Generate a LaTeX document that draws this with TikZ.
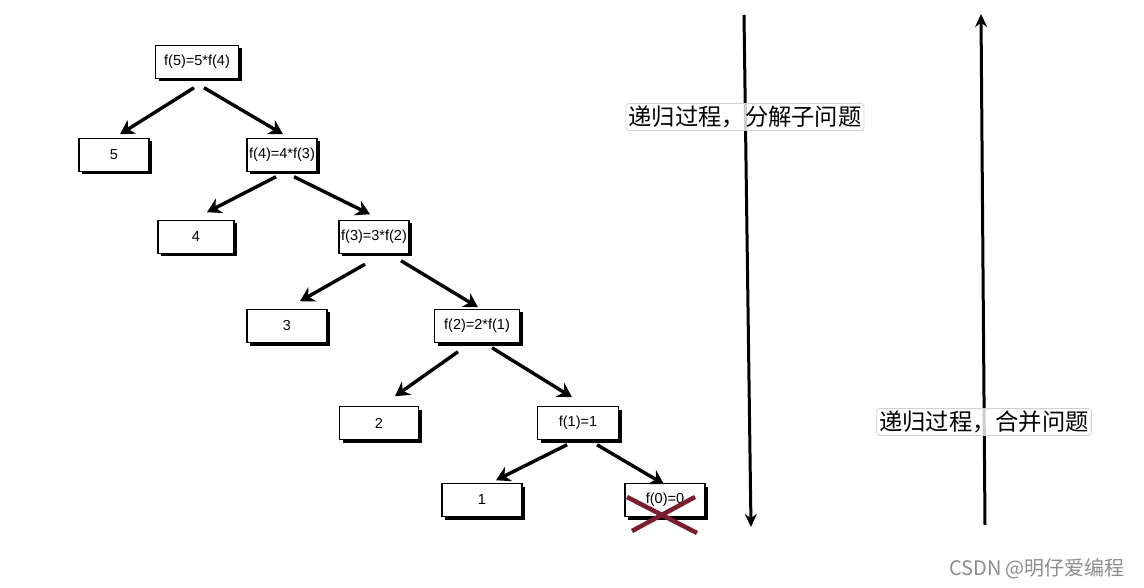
\documentclass[tikz,border=0pt]{standalone}
\usepackage{fontspec}
\setmainfont{Liberation Sans}
\newfontfamily\cjk{Noto Sans CJK SC}
\usetikzlibrary{arrows.meta,shadows,calc}
\begin{document}
\begin{tikzpicture}[x=1pt,y=-1pt,
  fbox/.style={draw=black,line width=1.5pt,fill=white,minimum width=74pt,minimum height=33pt,inner sep=1pt,font=\fontsize{14.5}{16}\selectfont,
    drop shadow={shadow xshift=3pt,shadow yshift=-3pt,opacity=1,fill=black}},
  conn/.style={line width=3.4pt,-{Stealth[length=14pt,width=16pt]}},
  vline/.style={line width=3pt,-{Stealth[length=13pt,width=12pt]}},
  lbl/.style={draw=black!18,line width=0.8pt,rounded corners=3pt,fill=white,fill opacity=0.8,text opacity=1,inner sep=2.5pt,font=\cjk\fontsize{23.3}{26}\selectfont}]
\useasboundingbox (0,0) rectangle (1144,588);
\node[fbox,minimum width=83pt] (f5) at (197,62) {f(5)=5*f(4)};
\node[fbox,minimum width=70pt] (n5) at (114,155) {5};
\node[fbox,minimum width=70pt] (f4) at (282,155) {f(4)=4*f(3)};
\node[fbox,minimum width=76pt] (n4) at (196,237) {4};
\node[fbox,minimum width=70pt] (f3) at (374,237) {f(3)=3*f(2)};
\node[fbox,minimum width=80pt] (n3) at (287,326) {3};
\node[fbox,minimum width=85pt] (f2) at (477,326) {f(2)=2*f(1)};
\node[fbox,minimum width=79pt] (n2) at (379,423) {2};
\node[fbox,minimum width=81pt] (f1) at (578,423) {f(1)=1};
\node[fbox,minimum width=80pt] (n1) at (482,500) {1};
\node[fbox,minimum width=80pt] (f0) at (665,500) {f(0)=0};
% connectors
\draw[conn] ($(f5.south)+(-3,8.5)$) -- ($(n5.north)+(6,-3.5)$);
\draw[conn] ($(f5.south)+(7,8.5)$) -- ($(f4.north)+(1,-3.5)$);
\draw[conn] ($(f4.south)+(-6,4.5)$) -- ($(n4.north)+(11,-7.5)$);
\draw[conn] ($(f4.south)+(12,4.5)$) -- ($(f3.north)+(-4,-5.5)$);
\draw[conn] ($(f3.south)+(-9,10)$) -- ($(n3.north)+(13,-7.5)$);
\draw[conn] ($(f3.south)+(27,6.5)$) -- ($(f2.north)+(1,-1.5)$);
\draw[conn] ($(f2.south)+(-19,8.5)$) -- ($(n2.north)+(16,-9.5)$);
\draw[conn] ($(f2.south)+(15,4.5)$) -- ($(f1.north)+(-6,-8.5)$);
\draw[conn] ($(f1.south)+(-11,4.5)$) -- ($(n1.north)+(14,-2.5)$);
\draw[conn] ($(f1.south)+(19,4.5)$) -- ($(f0.north)+(-1,1.5)$);
% red cross
\draw[line width=4.5pt,color={rgb,255:red,122;green,30;blue,45}] ($(f0.center)+(-38,-3)$) -- ($(f0.center)+(32,33)$);
\draw[line width=4.5pt,color={rgb,255:red,122;green,30;blue,45}] ($(f0.center)+(-33,31)$) -- ($(f0.center)+(30,-3)$);
% vertical arrows
\coordinate (dtop) at (744,15);
\coordinate (dbot) at (751,527);
\coordinate (ubot) at (985,525);
\coordinate (utop) at (981,14);
\draw[vline] (dtop) -- (dbot);
\draw[vline] (ubot) -- (utop);
\node[lbl] (l1) at (745,117) {递归过程，分解子问题};
\node[lbl] (l2) at (984,422) {递归过程，合并问题};
\node[font=\cjk\fontsize{20}{22}\selectfont,text=black!45] (wm) at (1037,569) {CSDN @明仔爱编程};
\end{tikzpicture}
\end{document}
